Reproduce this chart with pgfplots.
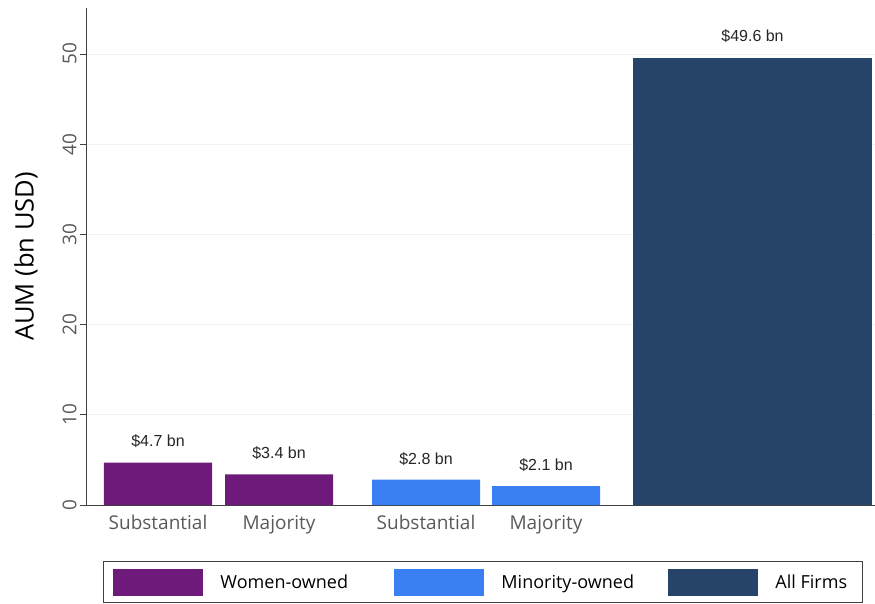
\documentclass[border=0pt]{standalone}
\usepackage{pgfplots}
\pgfplotsset{compat=1.18}
\usepackage{fontspec}
\setmainfont{Open Sans}
\newfontfamily\vfont{Liberation Sans}
\definecolor{women}{HTML}{6E1A7A}
\definecolor{minor}{HTML}{3A80F2}
\definecolor{allf}{HTML}{264469}
\definecolor{gridc}{HTML}{EEF2F7}
\definecolor{axc}{HTML}{404040}
\definecolor{tickc}{HTML}{595959}
\begin{document}
\begin{tikzpicture}
\begin{axis}[name=ax, scale only axis, width=788pt, height=497pt,
  xmin=87, xmax=875, ymin=0, ymax=55.1,
  axis x line=bottom, axis y line=left,
  axis line style={-, draw=axc, line width=1pt},
  ytick={0,10,...,50}, ymajorgrids, grid style={gridc, line width=0.8pt},
  tick align=outside, major tick length=7pt,
  ytick style={draw=axc, line width=1pt},
  yticklabel style={rotate=90, anchor=south, font=\fontsize{19}{19}\selectfont, text=tickc},
  xtick={158,279,426,546}, xticklabels={Substantial,Majority,Substantial,Majority},
  xtick style={draw=none},
  xticklabel style={font=\fontsize{19}{19}\selectfont, text=tickc},
  every axis y label/.style={at={(axis description cs:-0.0774,0.5)}, rotate=90, anchor=center},
  ylabel={AUM (bn USD)}, ylabel style={font=\fontsize{25.5}{25.5}\selectfont},
  /pgf/number format/assume math mode=true,
  every node near coord/.append style={font=\vfont\fontsize{16}{16}\selectfont, anchor=center, yshift=21pt, inner sep=0pt, text=black!85},
  legend columns=3,
  legend image code/.code={\draw[#1,draw=none] (0pt,-13.5pt) rectangle (90pt,13.5pt);},
  legend style={at={(rel axis cs:0.0203,-0.1127)}, anchor=north west, draw=axc, line width=1pt,
    inner xsep=10pt, inner ysep=7pt, font=\fontsize{18}{18}\selectfont,
    nodes={inner sep=0pt},
    /tikz/every odd column/.append style={column sep=17pt},
    /tikz/every even column/.append style={column sep=17pt}},
  legend cell align=left,
]
\addplot[ybar, bar width=108, bar shift=0pt, fill=women, draw=none,
  nodes near coords={\$\pgfmathprintnumber[fixed,fixed zerofill,precision=1]{\pgfplotspointmeta} bn}]
  coordinates {(158,4.7) (279,3.4)};
\addlegendentry{\makebox[157pt][l]{Women-owned}}
\addplot[ybar, bar width=108, bar shift=0pt, fill=minor, draw=none,
  nodes near coords={\$\pgfmathprintnumber[fixed,fixed zerofill,precision=1]{\pgfplotspointmeta} bn}]
  coordinates {(426,2.8) (546,2.1)};
\addlegendentry{\makebox[150pt][l]{Minority-owned}}
\addplot[ybar, bar width=239, bar shift=0pt, fill=allf, draw=none,
  nodes near coords={\$\pgfmathprintnumber[fixed,fixed zerofill,precision=1]{\pgfplotspointmeta} bn}]
  coordinates {(752.5,49.6)};
\addlegendentry{\makebox[77pt][l]{All Firms}}
\end{axis}
\pgfresetboundingbox
\path (ax.south west) ++(-87pt,-98pt) rectangle ++(875pt,603pt);
\end{tikzpicture}
\end{document}
